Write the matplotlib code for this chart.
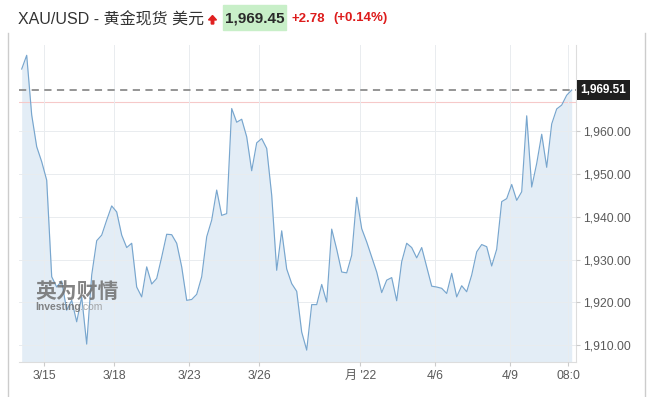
import numpy as np
import matplotlib
matplotlib.use("Agg")
import matplotlib.pyplot as plt
from matplotlib.patches import FancyArrow, Rectangle

# price readings (one every ~4 hours)
prices = [1974.4, 1977.6, 1963.7, 1956.3, 1952.8, 1948.5, 1926.0, 1923.6, 1925.0, 1918.2,
          1920.5, 1915.5, 1921.3, 1910.3, 1926.4, 1934.4, 1935.7, 1939.2, 1942.5, 1941.1,
          1935.7, 1932.8, 1933.8, 1923.6, 1921.3, 1928.3, 1924.3, 1925.6, 1930.6, 1935.9,
          1935.8, 1933.8, 1928.3, 1920.5, 1920.7, 1921.9, 1926.0, 1935.3, 1939.2, 1946.2,
          1940.3, 1940.7, 1965.2, 1962.0, 1962.7, 1958.6, 1950.7, 1957.2, 1958.2, 1955.9,
          1945.0, 1927.5, 1936.7, 1927.8, 1924.4, 1922.6, 1913.1, 1908.9, 1919.5, 1919.5,
          1924.2, 1920.1, 1937.1, 1932.4, 1927.1, 1926.9, 1931.0, 1944.5, 1937.2, 1934.1,
          1930.6, 1927.1, 1922.3, 1925.2, 1925.8, 1920.4, 1929.5, 1933.8, 1932.8, 1930.4,
          1932.8, 1928.3, 1923.8, 1923.6, 1923.3, 1922.1, 1926.8, 1921.3, 1923.9, 1922.5,
          1926.4, 1931.8, 1933.5, 1933.0, 1928.5, 1932.4, 1943.5, 1944.2, 1947.5, 1943.8,
          1945.8, 1963.5, 1946.9, 1952.4, 1959.2, 1951.5, 1961.6, 1965.1, 1966.0, 1968.3,
          1969.5]
xtick_pos = [4.5, 18.5, 33.5, 47.5, 67.7, 82.7, 97.7, 109.3]
xtick_labels = ["3/15", "3/18", "3/23", "3/26", "月 '22", "4/6", "4/9", "08:0"]
ytick_vals = [1910, 1920, 1930, 1940, 1950, 1960]
last_price = 1969.51
prev_close = 1966.67

W, H = 652, 397
fig = plt.figure(figsize=(W / 100, H / 100), dpi=100)
fig.patch.set_facecolor("white")
ax = fig.add_axes([19 / W, 1 - 361.7 / H, (576 - 19) / W, (361.7 - 45) / H])

x = np.arange(len(prices))
ymin, ymax = 1906.2, 1980.0
ax.fill_between(x, prices, ymin, color="#e3edf6", lw=0, zorder=1)
ax.plot(x, prices, color="#78a6ce", lw=0.85, zorder=3)
ax.axhline(prev_close, color="#f6c9c9", lw=0.8, zorder=2)
ax.axhline(last_price, color="#8c8c8c", lw=1.3, ls=(0, (4, 3)), zorder=4)

ax.set_xlim(-0.54, 110.86)
ax.set_ylim(ymin, ymax)

ax.set_xticks(xtick_pos)
ax.set_xticklabels(xtick_labels, family=["Liberation Sans", "Noto Sans CJK SC"])
ax.set_yticks(ytick_vals)
ax.set_yticklabels([f"{v:,.2f}" for v in ytick_vals], family="Liberation Sans")
ax.yaxis.tick_right()
ax.tick_params(axis="both", colors="#cccccc", labelcolor="#5a5a5a", labelsize=8.7,
               length=3, width=0.8)
ax.tick_params(axis="y", pad=2)
ax.tick_params(axis="x", pad=3)
ax.grid(True, color="#e9ecef", lw=0.7, zorder=2)
ax.set_axisbelow(False)
for s in ["top", "left"]:
    ax.spines[s].set_visible(False)
ax.spines["bottom"].set_color("#dddddd")
ax.spines["right"].set_color("#dddddd")

ax.annotate(f"{last_price:,.2f}", xy=(1.0, last_price), xycoords=("axes fraction", "data"),
            xytext=(3, 0), textcoords="offset points", ha="left", va="center",
            fontsize=8.5, fontweight="bold", color="white", family="Liberation Sans",
            bbox=dict(boxstyle="square,pad=0.3", fc="#1f1f1f", ec="none"))

# watermark
ax.text(35 / W, 1 - 291 / H, "英为财情", transform=fig.transFigure, fontsize=15,
        fontweight="bold", color="#6f6f6f", alpha=0.85, va="center",
        family="Noto Sans CJK SC", zorder=5)
ax.text(35 / W, 1 - 307 / H, "Investing", transform=fig.transFigure, fontsize=7.5,
        fontweight="bold", color="#6f6f6f", alpha=0.85, va="center",
        family="Liberation Sans", zorder=5)
ax.text(80 / W, 1 - 307 / H, ".com", transform=fig.transFigure, fontsize=7.5,
        color="#999999", alpha=0.85, va="center", family="Liberation Sans", zorder=5)

# header
fig.text(18 / W, 1 - 19.5 / H, "XAU/USD - 黄金现货 美元", fontsize=11.5, color="#333333",
         va="center", family=["Liberation Sans", "Noto Sans CJK SC"])
fig.patches.append(FancyArrow(212.5 / W, 1 - 24 / H, 0, 8.5 / H, width=2.5 / W,
                              head_width=8 / W, head_length=4.5 / H, length_includes_head=True,
                              color="#e02020", transform=fig.transFigure, figure=fig))
fig.patches.append(Rectangle((223 / W, 1 - 30 / H), 63 / W, 25 / H, color="#c8efc8",
                             transform=fig.transFigure, figure=fig, zorder=0))
fig.text(225 / W, 1 - 18.5 / H, "1,969.45", fontsize=11, fontweight="bold", color="#2a2a2a",
         va="center", family="Liberation Sans")
fig.text(292 / W, 1 - 18.5 / H, "+2.78", fontsize=9.5, fontweight="bold", color="#dd1c1c",
         va="center", family="Liberation Sans")
fig.text(333 / W, 1 - 18.5 / H, "(+0.14%)", fontsize=9.5, fontweight="bold", color="#dd1c1c",
         va="center", family="Liberation Sans")

# outer frame
fig.add_artist(plt.Line2D([8 / W, 8 / W], [0, 1 - 33 / H], color="#cccccc", lw=1,
                          transform=fig.transFigure))
fig.add_artist(plt.Line2D([645 / W, 645 / W], [0, 1 - 33 / H], color="#cccccc", lw=1,
                          transform=fig.transFigure))

fig.savefig("out.png", dpi=100)
